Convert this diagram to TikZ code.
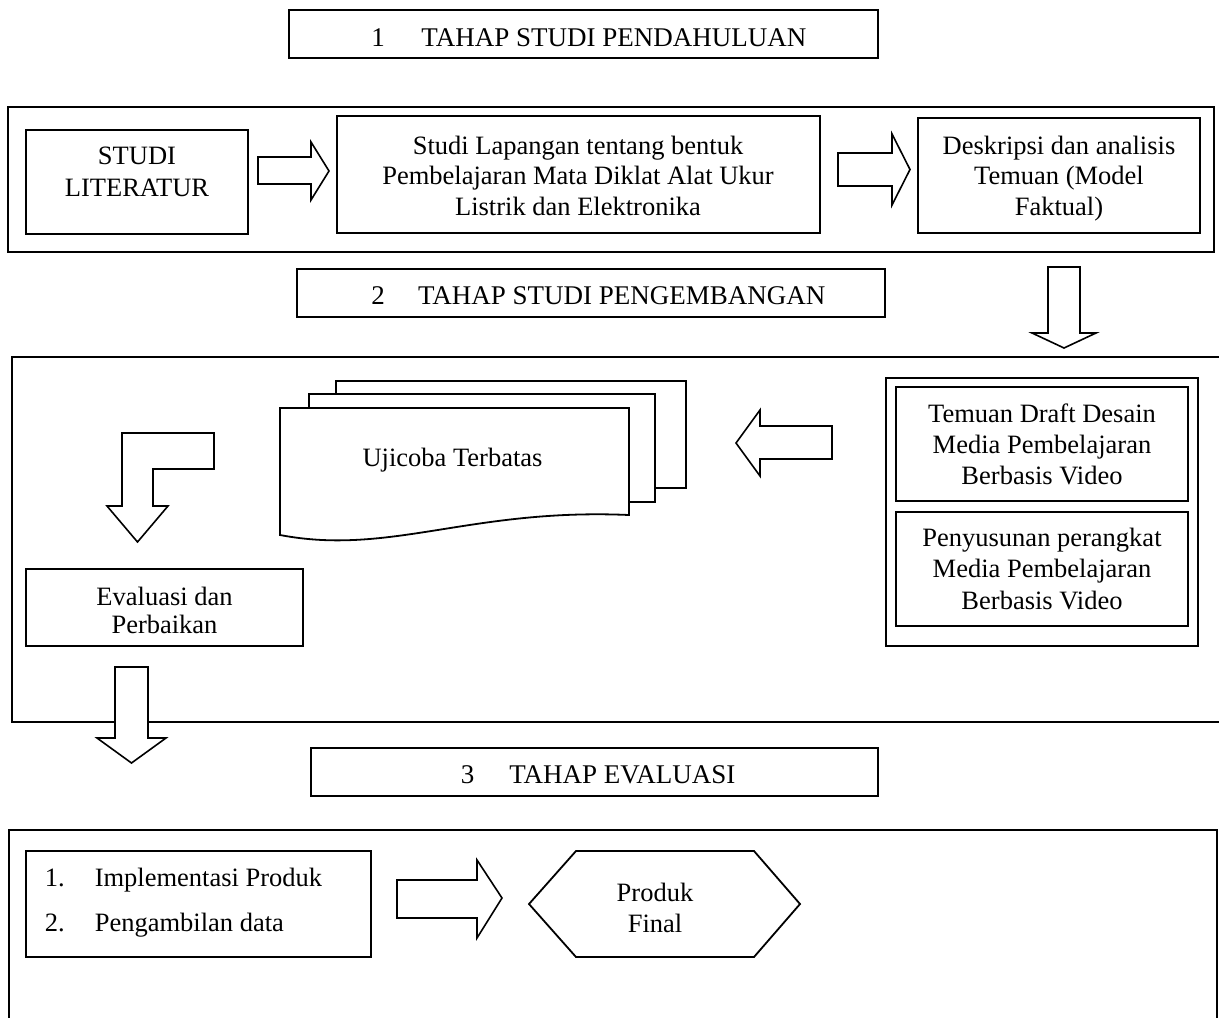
\documentclass[tikz,border=0pt]{standalone}
\usepackage{fontspec}
\setmainfont{Liberation Serif}
\begin{document}
\begin{tikzpicture}[x=0.5pt,y=-0.5pt,
  box/.style={draw, line width=0.9pt},
  barrow/.style={draw, fill=white, line width=0.8pt, line join=miter},
  lbl/.style={inner sep=0pt, align=center, font=\fontsize{13.25pt}{#1}\selectfont},
  ttl/.style={inner sep=0pt, anchor=west, font=\fontsize{13.5pt}{15.5pt}\selectfont}]
\useasboundingbox[fill=white] (0,0) rectangle (1219,1017);

% ---------- stage 1 ----------
\draw[box] (289,10) rectangle (878,58);
\node[ttl] (t1) at (371,40.3) {\strut 1\hspace{18.3pt}TAHAP STUDI PENDAHULUAN};

\draw[box] (8,107) rectangle (1214,252);
\draw[box] (26,130) rectangle (248,234);
\node[lbl=16pt] (lit) at (137,173.6) {\strut STUDI\\LITERATUR\strut};
\draw[box] (337,116) rectangle (820,233);
\node[lbl=15.25pt] (lap) at (578,178.4) {\strut Studi Lapangan tentang bentuk\\Pembelajaran Mata Diklat Alat Ukur\\Listrik dan Elektronika\strut};
\draw[box] (918,118) rectangle (1200,233);
\node[lbl=15.25pt] (desk) at (1059,178.4) {\strut Deskripsi dan analisis\\Temuan (Model\\Faktual)\strut};

\draw[barrow] (258,157) -- (311,157) -- (311,142) -- (329,171) -- (311,200) -- (311,184) -- (258,184) -- cycle;
\draw[barrow] (838,153) -- (892,153) -- (892,134) -- (910,169.5) -- (892,205) -- (892,186) -- (838,186) -- cycle;

% ---------- stage 2 ----------
\draw[box] (297,269) rectangle (885,317);
\node[ttl] (t2) at (371,297.8) {\strut 2\hspace{16.6pt}TAHAP STUDI PENGEMBANGAN};

\draw[barrow] (1048,267) -- (1080,267) -- (1080,333) -- (1096,333) -- (1064,348) -- (1032,333) -- (1048,333) -- cycle;

\draw[box] (1219,357) -- (12,357) -- (12,722) -- (1219,722);

\draw[box] (886,378) rectangle (1198,646);
\draw[box] (896,387) rectangle (1188,501);
\node[lbl=15.5pt] (tem) at (1042,446.8) {\strut Temuan Draft Desain\\Media Pembelajaran\\Berbasis Video\strut};
\draw[box] (896,512) rectangle (1188,626);
\node[lbl=15.75pt] (pen) at (1042,571.2) {\strut Penyusunan perangkat\\Media Pembelajaran\\Berbasis Video\strut};

\draw[barrow] (832,426) -- (760,426) -- (760,410) -- (736,443) -- (760,476) -- (760,459) -- (832,459) -- cycle;

\draw[box, fill=white] (336,381) rectangle (686,488);
\draw[box, fill=white] (309,394) rectangle (655,502);
\draw[box, fill=white] (280,535) -- (280,408) -- (629,408) -- (629,515) .. controls (470,508) and (390,556) .. (280,535) -- cycle;
\node[lbl=15.5pt] (uji) at (452.5,459.8) {\strut Ujicoba Terbatas};

\draw[barrow] (122,433) -- (214,433) -- (214,469) -- (153,469) -- (153,506) -- (168,506) -- (137.5,542) -- (107,506) -- (122,506) -- cycle;

\draw[box] (26,569) rectangle (303,646);
\node[lbl=14.25pt] (eva) at (164.5,613.6) {\strut Evaluasi dan\\Perbaikan\strut};

\draw[barrow] (115,667) -- (148,667) -- (148,738) -- (166,738) -- (131.5,763) -- (97,738) -- (115,738) -- cycle;

% ---------- stage 3 ----------
\draw[box] (311,748) rectangle (878,796);
\node[ttl] (t3) at (460.4,776.8) {\strut 3\hspace{17.5pt}TAHAP EVALUASI};

\draw[box] (9,1020) -- (9,830) -- (1217,830) -- (1217,1020);

\draw[box] (26,851) rectangle (371,957);
\node[lbl=22.5pt, anchor=west, align=left] (impl) at (44.5,899.5) {\strut 1.\hspace{15pt}Implementasi Produk\\2.\hspace{15pt}Pengambilan data\strut};

\draw[barrow] (397,880) -- (477,880) -- (477,860) -- (502,898) -- (477,938) -- (477,918) -- (397,918) -- cycle;

\draw[box] (529,904) -- (576,851) -- (754,851) -- (800,904) -- (754,957) -- (576,957) -- cycle;
\node[lbl=15.5pt] (fin) at (655,910.3) {\strut Produk\\Final\strut};
\end{tikzpicture}
\end{document}
